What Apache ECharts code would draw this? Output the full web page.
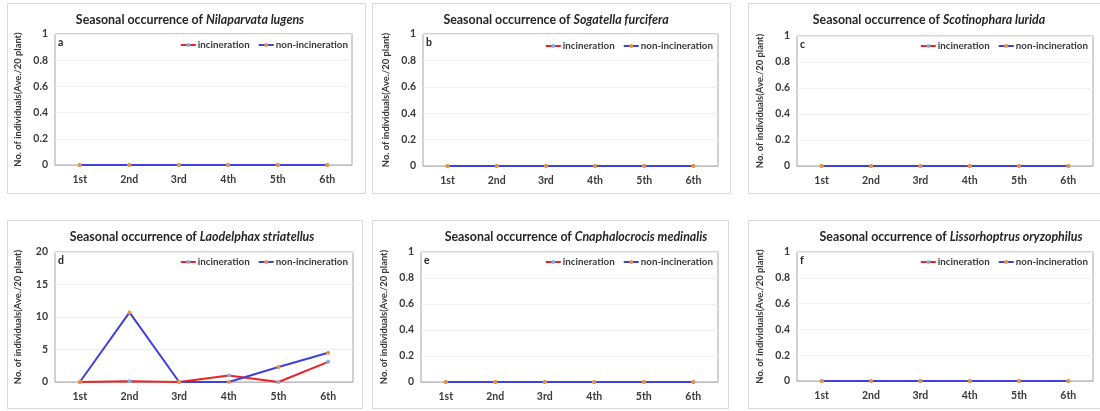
<!DOCTYPE html>
<html>
<head>
<meta charset="utf-8">
<script src="https://cdn.jsdelivr.net/npm/echarts@6/dist/echarts.min.js"></script>
<style>
  html, body { margin: 0; padding: 0; background: #fff; }
  #chart { width: 1100px; height: 411px; }
</style>
</head>
<body>
<div id="chart"></div>
<script>
// 차트 데이터
var categories = ['1st', '2nd', '3rd', '4th', '5th', '6th'];
var panelLetters = ['a', 'b', 'c', 'd', 'e', 'f'];
var species = ['Nilaparvata lugens', 'Sogatella furcifera', 'Scotinophara lurida',
  'Laodelphax striatellus', 'Cnaphalocrocis medinalis', 'Lissorhoptrus oryzophilus'];
var seriesNames = ['incineration', 'non-incineration'];

var incinerationA = [0, 0, 0, 0, 0, 0];
var nonIncinerationA = [0, 0, 0, 0, 0, 0];
var incinerationB = [0, 0, 0, 0, 0, 0];
var nonIncinerationB = [0, 0, 0, 0, 0, 0];
var incinerationC = [0, 0, 0, 0, 0, 0];
var nonIncinerationC = [0, 0, 0, 0, 0, 0];
var incinerationD = [0, 0.1, 0, 1.0, 0, 3.1];
var nonIncinerationD = [0, 10.7, 0, 0, 2.3, 4.5];
var incinerationE = [0, 0, 0, 0, 0, 0];
var nonIncinerationE = [0, 0, 0, 0, 0, 0];
var incinerationF = [0, 0, 0, 0, 0, 0];
var nonIncinerationF = [0, 0, 0, 0, 0, 0];

var yMax = [1, 1, 1, 20, 1, 1];
var yInterval = [0.2, 0.2, 0.2, 5, 0.2, 0.2];

var incData = [incinerationA, incinerationB, incinerationC, incinerationD, incinerationE, incinerationF];
var nonData = [nonIncinerationA, nonIncinerationB, nonIncinerationC, nonIncinerationD, nonIncinerationE, nonIncinerationF];

// 패널 배치 (px)
var grids = [
  { left: 55, top: 34, width: 297, height: 131 },
  { left: 423, top: 34, width: 295, height: 132 },
  { left: 797, top: 36, width: 296, height: 130 },
  { left: 55, top: 252, width: 298, height: 130 },
  { left: 421, top: 252, width: 297, height: 130 },
  { left: 797, top: 252, width: 296, height: 129 }
];
var frames = [
  [7, 3, 358, 190], [372, 3, 358, 190], [748, 3, 356, 190],
  [7, 220, 355, 188], [372, 220, 356, 188], [748, 220, 356, 188]
];
var titleCenter = [[190, 14], [556, 14], [929, 14], [192, 231], [576, 231], [951, 231]];
var legendPos = [[752, 40], [387, 41], [12, 41], [752, 257], [387, 257], [12, 257]];

var FONT = 'Lato';
var TXT = '#3a3a3a';

var option = {
  animation: false,
  backgroundColor: '#fff',
  title: [],
  legend: [],
  grid: [],
  xAxis: [],
  yAxis: [],
  series: [],
  graphic: []
};

for (var i = 0; i < 6; i++) {
  var g = grids[i];
  option.grid.push({
    left: g.left, top: g.top, width: g.width, height: g.height,
    show: true, borderColor: '#a6a6a6', borderWidth: 1, containLabel: false
  });
  option.xAxis.push({
    type: 'category', gridIndex: i, data: categories, boundaryGap: true,
    axisLine: { lineStyle: { color: '#bfbfbf' } },
    axisTick: { show: false },
    axisLabel: { color: TXT, fontFamily: FONT, fontWeight: 'bold', fontSize: 10.5, margin: 9 }
  });
  option.yAxis.push({
    type: 'value', gridIndex: i, min: 0, max: yMax[i], interval: yInterval[i],
    name: 'No. of individuals(Ave./20 plant)', nameLocation: 'middle', nameGap: 33,
    nameTextStyle: { color: TXT, fontFamily: FONT, fontWeight: 'bold', fontSize: 9.4 },
    axisLine: { show: false }, axisTick: { show: false },
    splitLine: { lineStyle: { color: '#efefef' } },
    axisLabel: { color: TXT, fontFamily: FONT, fontWeight: 'bold', fontSize: 10.5, margin: 7 }
  });
  option.title.push({
    text: '{n|Seasonal occurrence of }{i|' + species[i] + '}',
    left: titleCenter[i][0], top: titleCenter[i][1], textAlign: 'center', padding: 0,
    textStyle: {
      rich: {
        n: { fontFamily: FONT, fontWeight: 'bold', fontSize: 12.4, color: '#262626' },
        i: { fontFamily: FONT, fontWeight: 'bold', fontStyle: 'italic', fontSize: 12.4, color: '#262626' }
      }
    }
  });
  option.title.push({
    text: panelLetters[i], left: g.left + 3, top: g.top + 3, padding: 0,
    textStyle: { fontFamily: FONT, fontWeight: 'bold', fontSize: 10.5, color: '#262626' }
  });
  option.legend.push({
    data: seriesNames, right: legendPos[i][0], top: legendPos[i][1], padding: 0,
    itemWidth: 15, itemHeight: 5, itemGap: 8,
    textStyle: { fontFamily: FONT, fontWeight: 'bold', fontSize: 9.8, color: TXT, padding: [0, 0, 0, -3] }
  });
  option.series.push({
    name: seriesNames[0], type: 'line', xAxisIndex: i, yAxisIndex: i, data: incData[i],
    symbol: 'circle', symbolSize: 4, showSymbol: true,
    lineStyle: { color: '#ee2222', width: 2 },
    itemStyle: { color: '#7fb0e0', borderWidth: 0 }
  });
  option.series.push({
    name: seriesNames[1], type: 'line', xAxisIndex: i, yAxisIndex: i, data: nonData[i],
    symbol: 'circle', symbolSize: 4, showSymbol: true,
    lineStyle: { color: '#4040dd', width: 2 },
    itemStyle: { color: '#f0913a', borderWidth: 0 }
  });
  var f = frames[i];
  option.graphic.push({
    type: 'rect', silent: true, z: -1,
    shape: { x: f[0] + 0.5, y: f[1] + 0.5, width: f[2], height: f[3] },
    style: { fill: null, stroke: '#d9d9d9', lineWidth: 1 }
  });
}

var myChart = echarts.init(document.getElementById('chart'), null, { renderer: 'canvas' });
myChart.setOption(option);
</script>
</body>
</html>
